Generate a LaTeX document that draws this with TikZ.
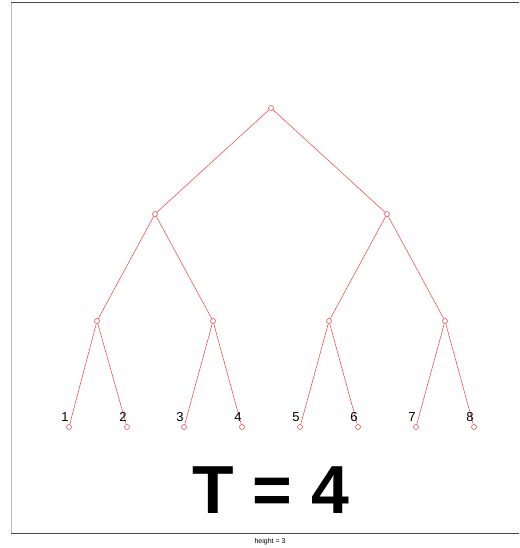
\documentclass[tikz,border=0pt]{standalone}
\usepackage{fontspec}
\setmainfont{Liberation Sans}
\usepackage{tikz}
\usetikzlibrary{positioning}
\definecolor{EdgeRed}{RGB}{240,60,60}
\definecolor{FrameGray}{RGB}{70,70,70}
\tikzset{
  vert/.style={circle,draw=EdgeRed,inner sep=0pt,minimum size=5pt,line width=0.5pt},
  edge/.style={EdgeRed,line width=0.5pt},
  leaflabel/.style={font=\fontsize{13}{13}\selectfont,inner sep=0pt}
}

\begin{document}
\begin{tikzpicture}[x=1pt,y=-1pt]
      \useasboundingbox (0,0) rectangle (519,548);
      % frame
      \draw[gray!55,line width=1pt] (11,3)--(11,533);
      \draw[FrameGray,line width=1pt] (11,3)--(519,3) (11,533)--(519,533);
      % vertices
      \node[vert] (r) at (271,108) {};
      \node[vert] (a) at (155,214) {};
      \node[vert] (b) at (387,214) {};
      \node[vert] (aa) at (97,321) {};
      \node[vert] (ab) at (213,321) {};
      \node[vert] (ba) at (329,321) {};
      \node[vert] (bb) at (445,321) {};
      \node[vert] (l1) at (69,427) {};
      \node[vert] (l2) at (127,427) {};
      \node[vert] (l3) at (184,427) {};
      \node[vert] (l4) at (242,427) {};
      \node[vert] (l5) at (300,427) {};
      \node[vert] (l6) at (358,427) {};
      \node[vert] (l7) at (416,427) {};
      \node[vert] (l8) at (474,427) {};
      % edges
      \draw[edge] (r)--(a) (r)--(b);
      \draw[edge] (a)--(aa) (a)--(ab) (b)--(ba) (b)--(bb);
      \draw[edge] (aa)--(l1) (aa)--(l2) (ab)--(l3) (ab)--(l4);
      \draw[edge] (ba)--(l5) (ba)--(l6) (bb)--(l7) (bb)--(l8);
      % leaf labels
      \node[leaflabel] (t1) at (65,417) {1};
      \node[leaflabel] (t2) at (123,417) {2};
      \node[leaflabel] (t3) at (180,417) {3};
      \node[leaflabel] (t4) at (238,417) {4};
      \node[leaflabel] (t5) at (296,417) {5};
      \node[leaflabel] (t6) at (354,417) {6};
      \node[leaflabel] (t7) at (412,417) {7};
      \node[leaflabel] (t8) at (470,417) {8};
      % title and caption
      \node[font=\fontsize{68}{68}\selectfont\bfseries,inner sep=0pt] (big) at (271,490) {T = 4};
      \node[font=\fontsize{7}{7}\selectfont,inner sep=0pt] (cap) at (270,542) {height = 3};
    \end{tikzpicture}
\end{document}
